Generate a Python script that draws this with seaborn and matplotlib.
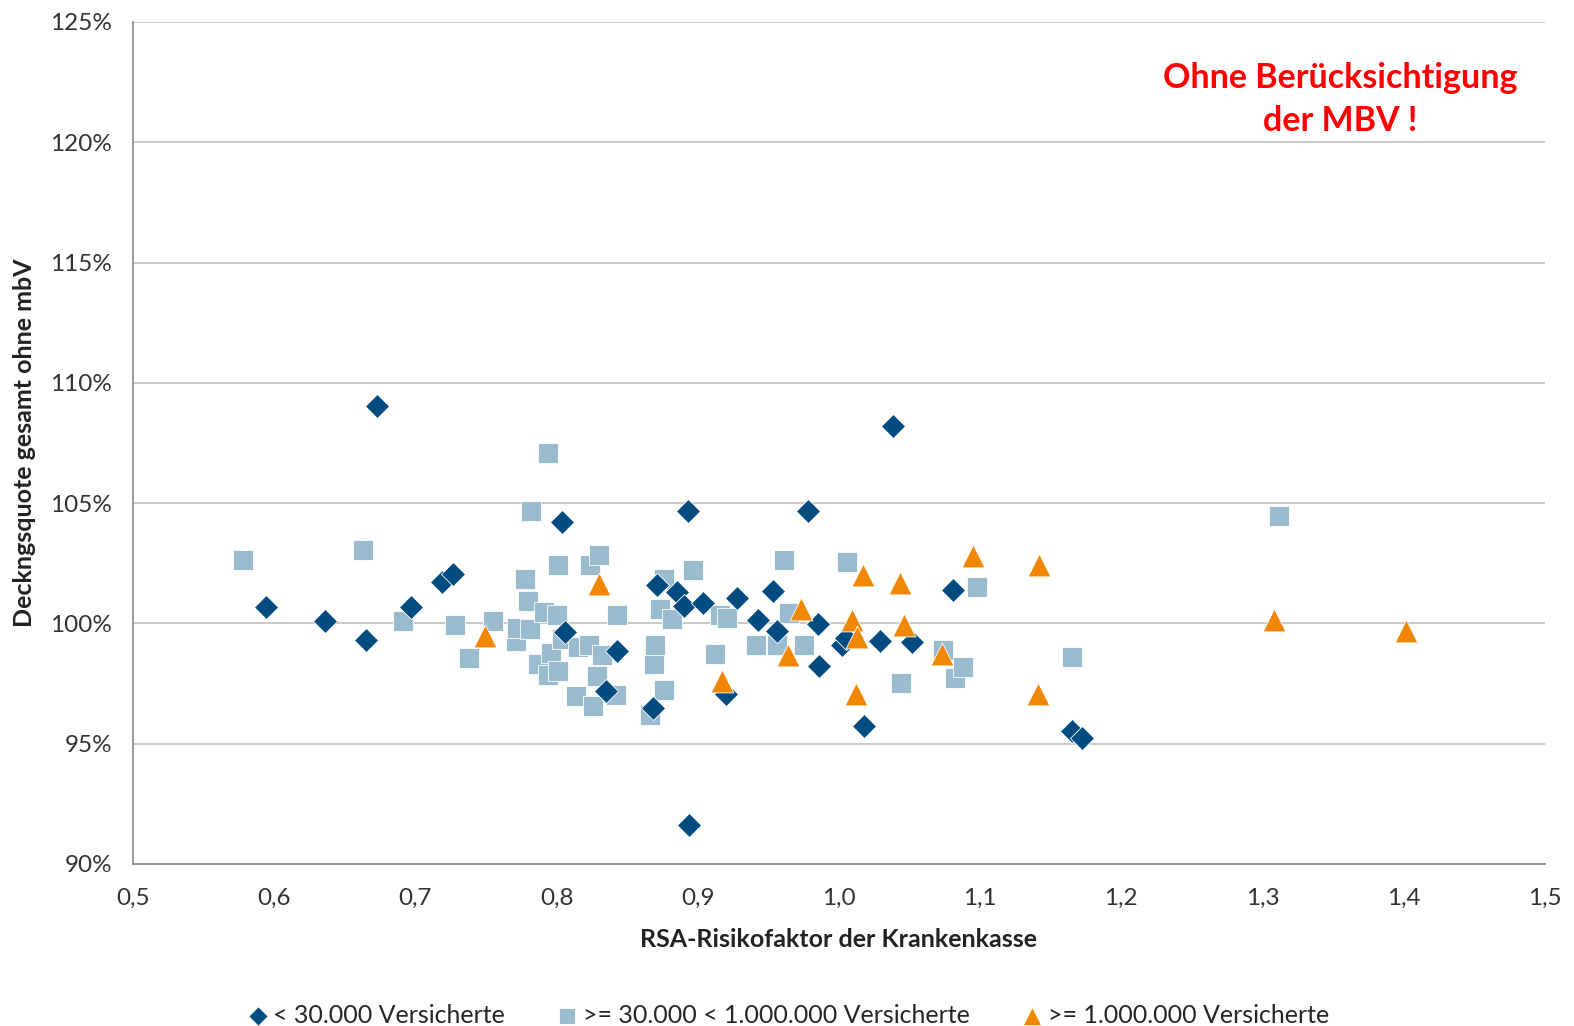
import pandas as pd
import seaborn as sns
import matplotlib.pyplot as plt
import numpy as np

# < 30.000 Versicherte
klein_x = [0.594, 0.636, 0.665, 0.673, 0.697, 0.719, 0.727, 0.804, 0.806, 0.835,
           0.843, 0.868, 0.871, 0.885, 0.890, 0.893, 0.894, 0.904, 0.920, 0.928,
           0.943, 0.953, 0.956, 0.978, 0.985, 0.986, 1.002, 1.005, 1.018, 1.029,
           1.038, 1.052, 1.081, 1.165, 1.172]
klein_y = [100.69, 100.11, 99.32, 109.05, 100.69, 101.73, 102.07, 104.23, 99.62, 97.20,
           98.83, 96.50, 101.60, 101.32, 100.74, 104.68, 91.63, 100.86, 97.07, 101.07,
           100.15, 101.36, 99.70, 104.65, 99.99, 98.24, 99.11, 99.41, 95.75, 99.28,
           108.20, 99.24, 101.40, 95.54, 95.25]

# >= 30.000 < 1.000.000 Versicherte
mittel_x = [0.578, 0.663, 0.691, 0.728, 0.738, 0.755, 0.771, 0.772, 0.778, 0.780,
            0.781, 0.782, 0.787, 0.791, 0.794, 0.794, 0.796, 0.800, 0.801, 0.801,
            0.804, 0.814, 0.815, 0.823, 0.824, 0.826, 0.829, 0.830, 0.832, 0.842,
            0.843, 0.866, 0.869, 0.869, 0.870, 0.873, 0.876, 0.876, 0.882, 0.897,
            0.912, 0.916, 0.921, 0.941, 0.956, 0.961, 0.965, 0.975, 1.006, 1.044,
            1.074, 1.082, 1.088, 1.098, 1.165, 1.312]
mittel_y = [102.65, 103.06, 100.11, 99.95, 98.57, 100.11, 99.28, 99.82, 101.86, 100.94,
            99.78, 104.69, 98.32, 100.48, 107.09, 97.87, 98.78, 100.36, 102.44, 98.03,
            99.36, 96.99, 99.03, 99.11, 102.44, 96.58, 97.83, 102.86, 98.70, 97.03,
            100.36, 96.20, 98.60, 98.32, 99.11, 100.61, 101.85, 97.24, 100.20, 102.23,
            98.74, 100.36, 100.24, 99.11, 99.11, 102.65, 100.44, 99.11, 102.57, 97.50,
            98.90, 97.74, 98.20, 101.52, 98.60, 104.47]

# >= 1.000.000 Versicherte
gross_x = [0.749, 0.830, 0.917, 0.964, 0.973, 1.009, 1.012, 1.013, 1.017, 1.043,
           1.046, 1.073, 1.095, 1.141, 1.142, 1.308, 1.402]
gross_y = [99.48, 101.65, 97.60, 98.70, 100.60, 100.15, 97.08, 99.45, 102.02, 101.69,
           99.95, 98.74, 102.82, 97.08, 102.44, 100.15, 99.70]

gruppen = ["< 30.000 Versicherte", ">= 30.000 < 1.000.000 Versicherte", ">= 1.000.000 Versicherte"]

x_ticks = [0.5, 0.6, 0.7, 0.8, 0.9, 1.0, 1.1, 1.2, 1.3, 1.4, 1.5]
y_ticks = [90, 95, 100, 105, 110, 115, 120, 125]

df = pd.concat([
    pd.DataFrame({"x": klein_x, "y": klein_y, "Gruppe": gruppen[0]}),
    pd.DataFrame({"x": mittel_x, "y": mittel_y, "Gruppe": gruppen[1]}),
    pd.DataFrame({"x": gross_x, "y": gross_y, "Gruppe": gruppen[2]}),
])

sns.set_style("white")
plt.rcParams['font.family'] = ['Lato', 'DejaVu Sans']

farben = {gruppen[0]: "#004b7f", gruppen[1]: "#9bbbcf", gruppen[2]: "#f18700"}
marker = {gruppen[0]: "D", gruppen[1]: "s", gruppen[2]: "^"}
groesse = {gruppen[0]: 150, gruppen[1]: 190, gruppen[2]: 270}

fig = plt.figure(figsize=(15.74, 10.26), dpi=100)
ax = fig.add_axes([0.0845, 0.158, 0.8969, 0.8206])

for g in [gruppen[1], gruppen[0], gruppen[2]]:
    sns.scatterplot(data=df[df["Gruppe"] == g], x="x", y="y", ax=ax,
                    color=farben[g], marker=marker[g], s=groesse[g],
                    edgecolor="white", linewidth=0.6, label=g, zorder=3)

ax.set_xlim(0.5, 1.5)
ax.set_ylim(90, 125)
ax.set_xticks(x_ticks)
ax.set_xticklabels([f"{v:.1f}".replace(".", ",") for v in x_ticks])
ax.set_yticks(y_ticks)
ax.set_yticklabels([f"{v}%" for v in y_ticks])
ax.tick_params(axis="both", labelsize=17.5, colors="#333333", length=7, width=1.2,
               color="#888888", direction="out")
ax.tick_params(axis="x", pad=10)
ax.tick_params(axis="y", pad=8)

ax.yaxis.grid(True, color="#c0c0c0", linewidth=1.2)
ax.set_axisbelow(True)
for s in ["top", "right"]:
    ax.spines[s].set_visible(False)
for s in ["left", "bottom"]:
    ax.spines[s].set_color("#888888")
    ax.spines[s].set_linewidth(1.2)

ax.set_xlabel("RSA-Risikofaktor der Krankenkasse", fontsize=18, fontweight="bold",
              color="#222222", labelpad=14)
ax.set_ylabel("Deckngsquote gesamt ohne mbV", fontsize=18, fontweight="bold",
              color="#222222", labelpad=10)

ax.text(0.855, 0.908, "Ohne Berücksichtigung\nder MBV !", transform=ax.transAxes,
        ha="center", va="center", color="#ff0000", fontsize=24.5, fontweight="bold",
        linespacing=1.45)

handles, labels = ax.get_legend_handles_labels()
order = [labels.index(g) for g in gruppen]
ax.legend([handles[i] for i in order], [labels[i] for i in order],
          loc="center", bbox_to_anchor=(0.5, 0.0105), bbox_transform=fig.transFigure,
          ncol=3, frameon=False, fontsize=18, columnspacing=2.0, handletextpad=0.12,
          handlelength=1.0, borderaxespad=0, borderpad=0, markerscale=0.8)

fig.savefig("out.png", dpi=100)
